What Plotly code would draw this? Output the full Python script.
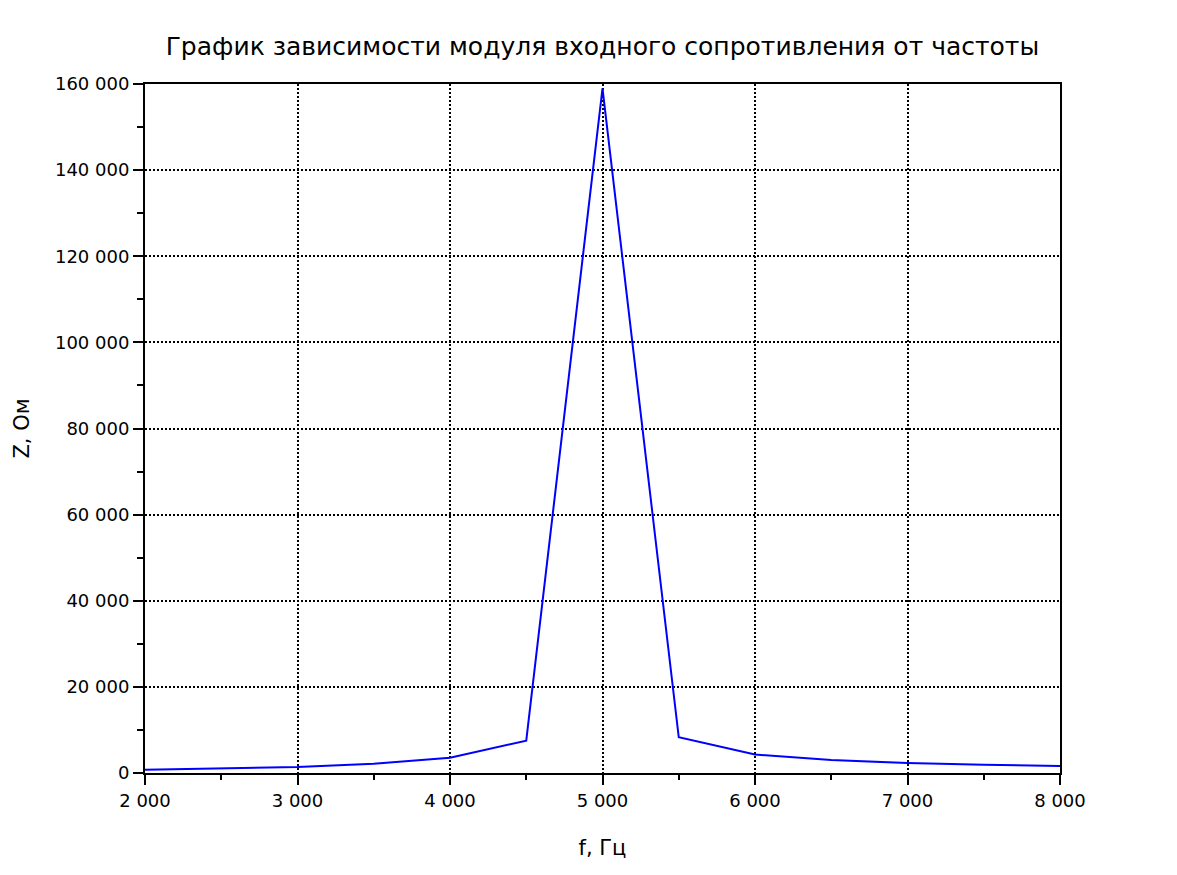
import plotly.graph_objects as go

freq_hz = [2000, 2500, 3000, 3500, 4000, 4500, 5000, 5500, 6000, 6500, 7000, 7500, 8000]
z_ohm = [750, 1050, 1400, 2150, 3550, 7500, 159000, 8300, 4300, 3000, 2300, 1900, 1650]

title_text = "График зависимости модуля входного сопротивления от частоты"
x_label = "f, Гц"
y_label = "Z, Ом"

fig = go.Figure()
fig.add_trace(go.Scatter(x=freq_hz, y=z_ohm, mode="lines",
                         line=dict(color="#0000FF", width=2), showlegend=False))

axis_common = dict(
    showline=True, linecolor="black", linewidth=2, mirror=True,
    ticks="outside", ticklen=10, tickwidth=2, tickcolor="black",
    showgrid=True, gridcolor="black", gridwidth=2, griddash="2px,2px",
    zeroline=False, tickformat=",d",
    tickfont=dict(family="DejaVu Sans", size=18, color="black"),
)

fig.update_layout(
    width=1177, height=875,
    paper_bgcolor="white", plot_bgcolor="white",
    separators=". ",
    margin=dict(l=137, r=125, t=76, b=110),
    title=dict(text=title_text, x=0.505, xanchor="center", y=0.9566, yanchor="middle",
               font=dict(family="DejaVu Sans", size=25, color="black")),
    xaxis=dict(range=[2000, 8000], dtick=1000, tick0=2000,
               title=dict(text=x_label, standoff=31,
                          font=dict(family="DejaVu Sans", size=21, color="black")),
               minor=dict(dtick=500, ticklen=5, tickwidth=2, tickcolor="black", ticks="outside", showgrid=False),
               **axis_common),
    yaxis=dict(range=[0, 160000], dtick=20000,
               title=dict(text=y_label, standoff=20,
                          font=dict(family="DejaVu Sans", size=21, color="black")),
               minor=dict(dtick=10000, ticklen=6, tickwidth=2, tickcolor="black", ticks="outside", showgrid=False),
               **axis_common),
)

fig.write_html("out.html")
